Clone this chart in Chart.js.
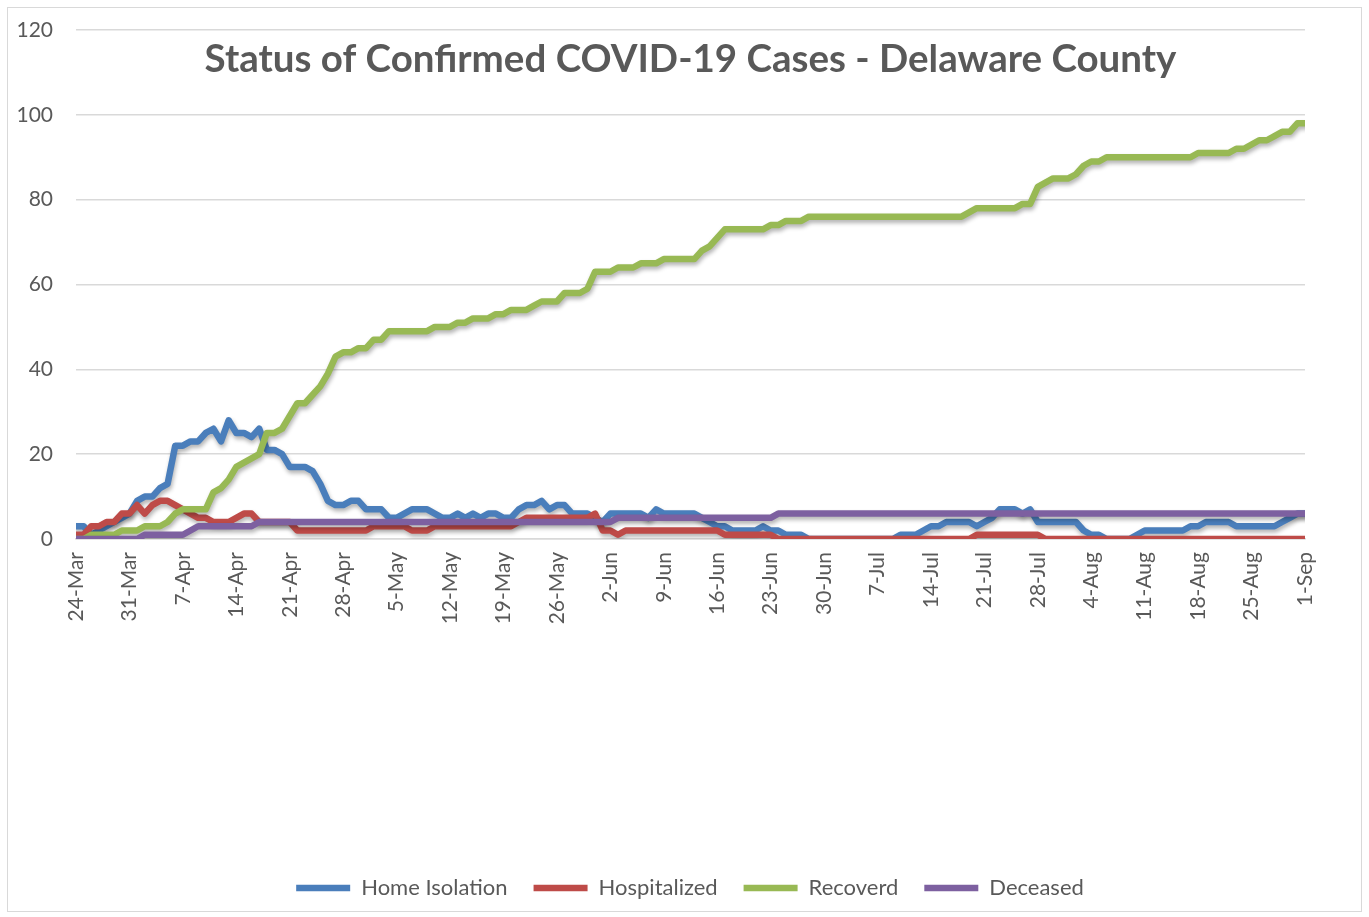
<!DOCTYPE html>
<html>
<head>
<meta charset="utf-8">
<script src="https://cdn.jsdelivr.net/npm/chart.js@4"></script>
<style>
  html, body { margin: 0; padding: 0; background: #fff; }
  #wrap { position: relative; width: 1369px; height: 917px; }
  #frame { position: absolute; left: 7px; top: 7px; width: 1353px; height: 903px; border: 1px solid #d9d9d9; }
</style>
</head>
<body>
<div id="wrap">
  <div id="frame"></div>
  <canvas id="chart" width="1369" height="917"></canvas>
</div>
<script>
// one value per day, 24-Mar .. 1-Sep (rows = weeks)
const weekLabels = ["24-Mar","31-Mar","7-Apr","14-Apr","21-Apr","28-Apr","5-May","12-May","19-May","26-May",
  "2-Jun","9-Jun","16-Jun","23-Jun","30-Jun","7-Jul","14-Jul","21-Jul","28-Jul","4-Aug","11-Aug","18-Aug","25-Aug","1-Sep"];

const homeIsolation = [
  3,3,1,2,3,4,5,
  6,9,10,10,12,13,22,
  22,23,23,25,26,23,28,
  25,25,24,26,21,21,20,
  17,17,17,16,13,9,8,
  8,9,9,7,7,7,5,
  5,6,7,7,7,6,5,
  5,6,5,6,5,6,6,
  5,5,7,8,8,9,7,
  8,8,6,6,6,5,4,
  6,6,6,6,6,5,7,
  6,6,6,6,6,5,4,
  3,3,2,2,2,2,3,
  2,2,1,1,1,0,0,
  0,0,0,0,0,0,0,
  0,0,0,1,1,1,2,
  3,3,4,4,4,4,3,
  4,5,7,7,7,6,7,
  4,4,4,4,4,4,2,
  1,1,0,0,0,0,1,
  2,2,2,2,2,2,3,
  3,4,4,4,4,3,3,
  3,3,3,3,4,5,6,
  6];

const hospitalized = [
  1,1,3,3,4,4,6,
  6,8,6,8,9,9,8,
  7,6,5,5,4,4,4,
  5,6,6,4,4,4,4,
  4,2,2,2,2,2,2,
  2,2,2,2,3,3,3,
  3,3,2,2,2,3,3,
  3,3,3,3,3,3,3,
  3,3,4,5,5,5,5,
  5,5,5,5,5,6,2,
  2,1,2,2,2,2,2,
  2,2,2,2,2,2,2,
  2,1,1,1,1,1,1,
  1,0,0,0,0,0,0,
  0,0,0,0,0,0,0,
  0,0,0,0,0,0,0,
  0,0,0,0,0,0,1,
  1,1,1,1,1,1,1,
  1,0,0,0,0,0,0,
  0,0,0,0,0,0,0,
  0,0,0,0,0,0,0,
  0,0,0,0,0,0,0,
  0,0,0,0,0,0,0,
  0];

const recovered = [
  0,0,1,1,1,1,2,
  2,2,3,3,3,4,6,
  7,7,7,7,11,12,14,
  17,18,19,20,25,25,26,
  29,32,32,34,36,39,43,
  44,44,45,45,47,47,49,
  49,49,49,49,49,50,50,
  50,51,51,52,52,52,53,
  53,54,54,54,55,56,56,
  56,58,58,58,59,63,63,
  63,64,64,64,65,65,65,
  66,66,66,66,66,68,69,
  71,73,73,73,73,73,73,
  74,74,75,75,75,76,76,
  76,76,76,76,76,76,76,
  76,76,76,76,76,76,76,
  76,76,76,76,76,77,78,
  78,78,78,78,78,79,79,
  83,84,85,85,85,86,88,
  89,89,90,90,90,90,90,
  90,90,90,90,90,90,90,
  91,91,91,91,91,92,92,
  93,94,94,95,96,96,98,
  98];

const deceased = [
  0,0,0,0,0,0,0,
  0,0,1,1,1,1,1,
  1,2,3,3,3,3,3,
  3,3,3,4,4,4,4,
  4,4,4,4,4,4,4,
  4,4,4,4,4,4,4,
  4,4,4,4,4,4,4,
  4,4,4,4,4,4,4,
  4,4,4,4,4,4,4,
  4,4,4,4,4,4,4,
  4,5,5,5,5,5,5,
  5,5,5,5,5,5,5,
  5,5,5,5,5,5,5,
  5,6,6,6,6,6,6,
  6,6,6,6,6,6,6,
  6,6,6,6,6,6,6,
  6,6,6,6,6,6,6,
  6,6,6,6,6,6,6,
  6,6,6,6,6,6,6,
  6,6,6,6,6,6,6,
  6,6,6,6,6,6,6,
  6,6,6,6,6,6,6,
  6,6,6,6,6,6,6,
  6];

const titleText = "Status of Confirmed COVID-19 Cases - Delaware County";
const textGray = "#595959";
const fontFamily = "Lato, 'Open Sans', sans-serif";

const toPoints = arr => arr.map((v, i) => ({ x: i, y: v }));

function series(label, values, color, order) {
  return {
    label: label,
    data: toPoints(values),
    borderColor: color,
    backgroundColor: color,
    borderWidth: 6.5,
    borderCapStyle: "round",
    borderJoinStyle: "round",
    pointRadius: 0,
    pointHoverRadius: 0,
    tension: 0,
    fill: false,
    order: order
  };
}

// soft drop shadow under each line, like the spreadsheet style
const lineShadow = {
  id: "lineShadow",
  beforeDatasetDraw(chart) {
    const ctx = chart.ctx;
    ctx.save();
    ctx.shadowColor = "rgba(0,0,0,0.3)";
    ctx.shadowBlur = 4;
    ctx.shadowOffsetX = 1;
    ctx.shadowOffsetY = 3;
  },
  afterDatasetDraw(chart) {
    chart.ctx.restore();
  }
};

const overlayTitle = {
  id: "overlayTitle",
  afterDraw(chart) {
    const ctx = chart.ctx;
    const area = chart.chartArea;
    ctx.save();
    ctx.font = "bold 38.5px " + fontFamily;
    ctx.fillStyle = textGray;
    ctx.textAlign = "center";
    ctx.textBaseline = "alphabetic";
    ctx.fillText(titleText, (area.left + area.right) / 2, 72);
    ctx.restore();
  }
};

// centre the legend under the plot instead of the padded box
const legendShift = {
  id: "legendShift",
  afterLayout(chart) {
    if (chart.legend) {
      chart.legend.left = 0;
      chart.legend.right = 1380;
    }
  }
};

const PLOT_BOTTOM = 539;
const PAD_BOTTOM = 8;

const ctx = document.getElementById("chart").getContext("2d");
new Chart(ctx, {
  type: "line",
  data: {
    datasets: [
      series("Home Isolation", homeIsolation, "#4a7ebb", 4),
      series("Hospitalized", hospitalized, "#be4b48", 3),
      series("Recoverd", recovered, "#98b954", 2),
      series("Deceased", deceased, "#7d60a0", 1)
    ]
  },
  plugins: [lineShadow, overlayTitle, legendShift],
  options: {
    responsive: false,
    animation: false,
    layout: { padding: { left: 0, right: 64, top: 30, bottom: PAD_BOTTOM } },
    plugins: {
      tooltip: { enabled: false },
      legend: {
        position: "bottom",
        labels: {
          usePointStyle: true,
          pointStyle: "line",
          pointStyleWidth: 54,
          padding: 26,
          color: textGray,
          font: { family: fontFamily, size: 22 },
          sort: (a, b) => a.datasetIndex - b.datasetIndex
        }
      }
    },
    scales: {
      x: {
        type: "linear",
        min: 0,
        max: homeIsolation.length - 1,
        afterFit: scale => {
          const lg = scale.chart.legend;
          scale.height = scale.chart.height - PAD_BOTTOM - (lg ? lg.height : 50) - PLOT_BOTTOM;
        },
        grid: { display: false, drawTicks: false },
        border: { display: true, color: "#d9d9d9", width: 1.5 },
        ticks: {
          stepSize: 7,
          autoSkip: false,
          minRotation: 90,
          maxRotation: 90,
          padding: 13,
          color: textGray,
          font: { family: fontFamily, size: 21 },
          callback: v => weekLabels[v / 7]
        }
      },
      y: {
        min: 0,
        max: 120,
        afterFit: scale => {
          scale.width = 76;
          scale.paddingTop = 0;
          scale.paddingBottom = 0;
        },
        grid: { color: "#d9d9d9", lineWidth: 1.5, drawTicks: false },
        border: { display: false },
        ticks: {
          stepSize: 20,
          padding: 23,
          color: textGray,
          font: { family: fontFamily, size: 21 }
        }
      }
    }
  }
});
</script>
</body>
</html>
